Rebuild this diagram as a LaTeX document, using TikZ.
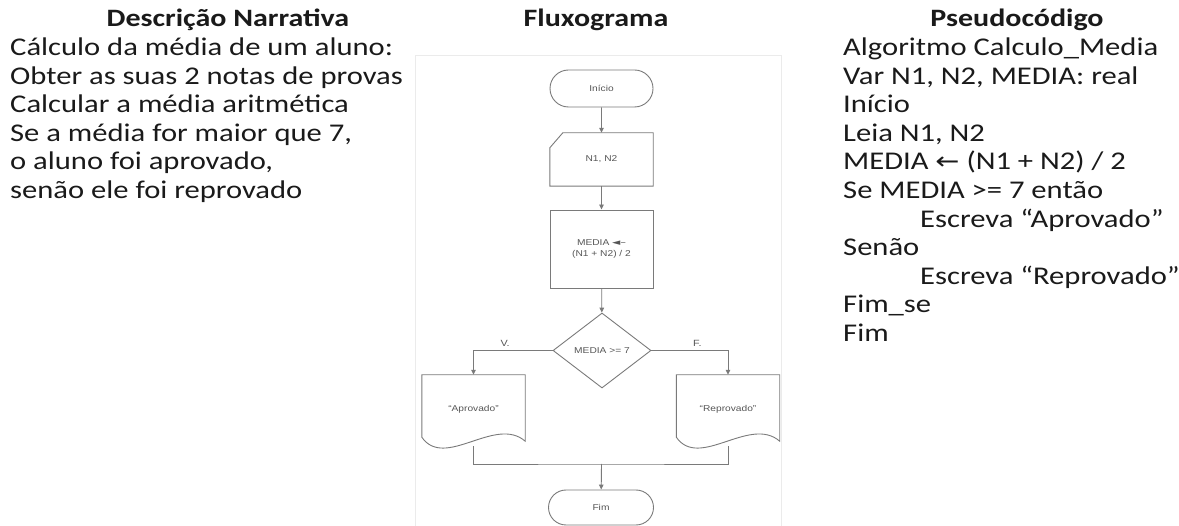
\documentclass[tikz,border=0pt]{standalone}
\usepackage{fontspec}
\usepackage{graphicx}
\setmainfont{Carlito}
\newfontfamily\flowfont{Liberation Sans}
\newfontfamily\dejavu{DejaVu Sans}
\usetikzlibrary{shapes.geometric,shapes.misc,arrows.meta}
\definecolor{linegray}{HTML}{7A7A7A}
\definecolor{flowtext}{HTML}{555555}
\definecolor{framegray}{HTML}{EBEBEB}
\definecolor{bodytext}{HTML}{1A1A1A}
\newcommand{\wide}[1]{\scalebox{1.2}[1]{#1}}
\begin{document}
\begin{tikzpicture}[x=1pt,y=-1pt,
  body/.style={font=\fontsize{25.5}{30}\selectfont, text=bodytext, inner sep=0, anchor=base west},
  head/.style={font=\fontsize{25}{30}\selectfont\bfseries, text=bodytext, inner sep=0, anchor=base},
  fl/.style={draw=linegray, line width=0.9pt},
  ftext/.style={font=\flowfont\fontsize{8.5}{11}\selectfont, text=flowtext, align=center},
  arr/.style={fl, -{Triangle[length=5pt,width=4.5pt]}},
  term/.style={fl, ftext, rounded rectangle, minimum width=103pt, minimum height=37pt, inner sep=0},
  box/.style={ftext, rectangle, minimum width=103pt, inner sep=0},
  doc/.style={ftext, rectangle, minimum width=103pt, minimum height=68pt, inner sep=0},
]
\useasboundingbox (0,0) rectangle (1179,526);
\draw[framegray, line width=0.8pt] (415,55) rectangle (781,540);

% headers
\node[head] (h1) at (228,27) {\wide{Descrição Narrativa}};
\node[head] (h2) at (596,27) {\wide{Fluxograma}};
\node[head] (h3) at (1017,27) {\wide{Pseudocódigo}};

% narrative
\foreach \t [count=\i from 0] in {Cálculo da média de um aluno:,Obter as suas 2 notas de provas,Calcular a média aritmética,{Se a média for maior que 7,},{o aluno foi aprovado,},senão ele foi reprovado}
  \node[body] (n\i) at (10,55.5+28.6*\i) {\wide{\t}};

% pseudocode
\foreach \t/\xx [count=\i from 0] in {Algoritmo Calculo\_Media/843,{Var N1, N2, MEDIA: real}/843,Início/843,{Leia N1, N2}/843,{MEDIA {\dejavu\fontsize{24}{26}\selectfont ←} (N1 + N2) / 2}/843,Se MEDIA >= 7 então/843,Escreva “Aprovado”/920,Senão/843,Escreva “Reprovado”/920,Fim\_se/843,Fim/843}
  \node[body] (p\i) at (\xx,55.5+28.6*\i) {\wide{\t}};

% flowchart
\node[term] (inicio) at (601.5,88.5) {\wide{Início}};
\node[box, minimum height=53pt] (entrada) at (601.5,159.5) {\wide{N1, N2}};
\draw[fl] ([xshift=13pt]entrada.north west) -- (entrada.north east) -- (entrada.south east) -- (entrada.south west) -- ([yshift=-15pt]entrada.north west) -- cycle;
\node[box, fl, minimum height=78pt] (proc) at (601.5,249) {\wide{MEDIA {\dejavu\fontsize{9}{11}\selectfont ◄–}}\\\wide{(N1 + N2) / 2}};
\node[fl, ftext, diamond, minimum width=98pt, minimum height=75pt, inner sep=0] (dec) at (602,350.5) {\wide{MEDIA >= 7}};
\node[doc] (aprov) at (473.5,409) {\wide{“Aprovado”}};
\node[doc] (reprov) at (728,409) {\wide{“Reprovado”}};
\foreach \d in {aprov,reprov}
  \draw[fl] (\d.north west) -- (\d.north east) -- ([yshift=2pt]\d.south east)
    .. controls ([xshift=-30pt,yshift=28pt]\d.south east) and ([xshift=23pt,yshift=-27pt]\d.south west) ..
    ([yshift=6pt]\d.south west) -- cycle;
\node[term, minimum width=105pt, minimum height=35pt] (fim) at (601,507.5) {\wide{Fim}};
\coordinate (join) at (601.5,464);

\draw[arr] (inicio) -- (entrada);
\draw[arr] (entrada) -- (proc);
\draw[arr] (proc) -- (dec);
\draw[arr] (dec.west) -| node[ftext, pos=0.3, above=0pt, font=\flowfont\fontsize{9}{10}\selectfont] (lv) {\wide{V.}} (aprov.north);
\draw[arr] (dec.east) -| node[ftext, pos=0.3, above=0pt, font=\flowfont\fontsize{9}{10}\selectfont] (lf) {\wide{F.}} (reprov.north);
\draw[fl] ([yshift=-3pt]aprov.south) |- (join) -| ([yshift=-3pt]reprov.south);
\draw[arr] (join) -- (fim);
\end{tikzpicture}
\end{document}
